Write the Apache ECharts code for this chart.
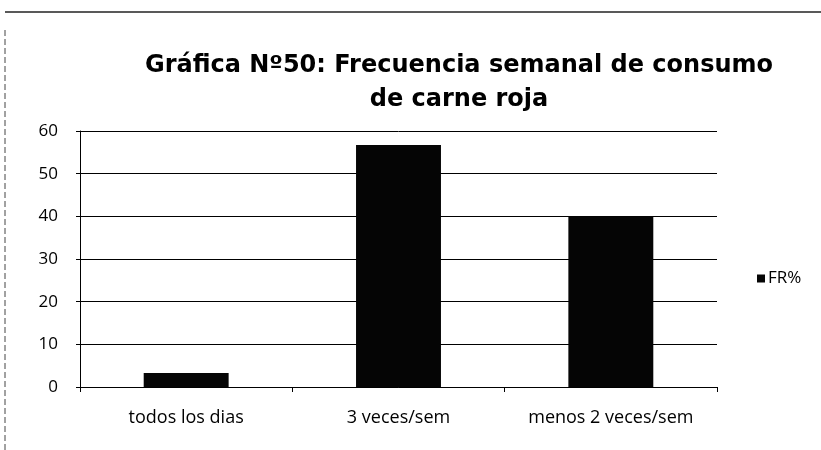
<!DOCTYPE html>
<html>
<head>
<meta charset="utf-8">
<script src="https://cdn.jsdelivr.net/npm/echarts@6/dist/echarts.min.js"></script>
<style>
  html, body { margin: 0; padding: 0; background: #fff; }
  #chart { width: 821px; height: 450px; }
</style>
</head>
<body>
<div id="chart"></div>
<script>
// Weekly red-meat consumption frequency (FR%)
const categories = ['todos los dias', '3 veces/sem', 'menos 2 veces/sem'];
const frValues = [3.3, 56.7, 40];
const yTicks = { min: 0, max: 60, interval: 10 };
const seriesName = 'FR%';
const titleText = 'Gráfica Nº50: Frecuencia semanal de consumo\nde carne roja';

const chart = echarts.init(document.getElementById('chart'), null, { renderer: 'canvas' });

chart.setOption({
  animation: false,
  backgroundColor: '#ffffff',
  graphic: [
    { type: 'line', shape: { x1: 5, y1: 12, x2: 821, y2: 12 }, style: { stroke: '#222', lineWidth: 1.5 } },
    { type: 'line', shape: { x1: 5, y1: 30, x2: 5, y2: 450 }, style: { stroke: '#444', lineWidth: 1, lineDash: [6, 3] } }
  ],
  title: {
    text: titleText,
    left: 454,
    textAlign: 'center',
    top: 44,
    textStyle: {
      fontFamily: 'DejaVu Sans, sans-serif',
      fontWeight: 'bold',
      fontSize: 24,
      lineHeight: 34,
      color: '#000'
    }
  },
  legend: {
    data: [seriesName],
    left: 752,
    top: 265,
    itemWidth: 8,
    itemHeight: 8,
    itemGap: 4,
    icon: 'rect',
    textStyle: { fontFamily: 'Open Sans, sans-serif', fontSize: 17, color: '#000', padding: [0, 0, 0, -2] }
  },
  grid: { left: 80, right: 104, top: 131, bottom: 63 },
  xAxis: {
    type: 'category',
    data: categories,
    axisLine: { show: true, lineStyle: { color: '#000', width: 1 } },
    axisTick: { show: true, alignWithLabel: false, length: 5, lineStyle: { color: '#000' } },
    axisLabel: {
      interval: 0,
      hideOverlap: false,
      fontFamily: 'Open Sans, sans-serif',
      fontSize: 18,
      color: '#000',
      margin: 22
    }
  },
  yAxis: {
    type: 'value',
    min: yTicks.min,
    max: yTicks.max,
    interval: yTicks.interval,
    axisLine: { show: true, lineStyle: { color: '#000', width: 1 } },
    axisTick: { show: true, length: 4, lineStyle: { color: '#000' } },
    splitLine: { show: true, lineStyle: { color: '#000', width: 1 } },
    axisLabel: { fontFamily: 'Open Sans, sans-serif', fontSize: 17, color: '#000', margin: 22 }
  },
  series: [{
    name: seriesName,
    type: 'bar',
    data: frValues,
    barWidth: '40%',
    itemStyle: { color: '#050505' }
  }]
});
</script>
</body>
</html>
